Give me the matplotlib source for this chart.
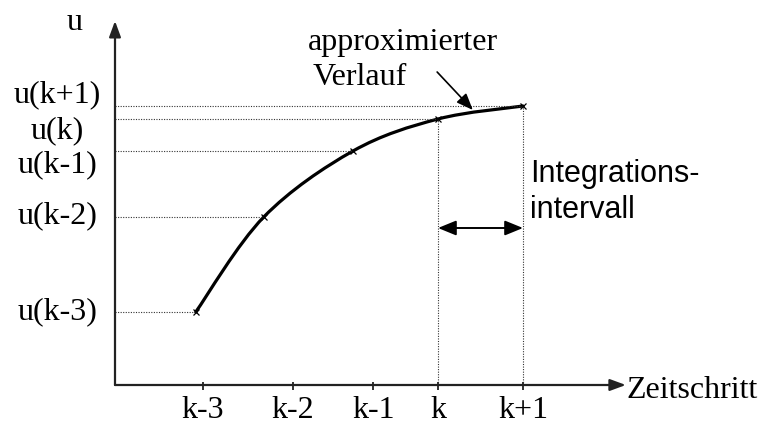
import numpy as np
import matplotlib.pyplot as plt
from matplotlib.path import Path
from matplotlib.patches import PathPatch

# time axis in steps, k = 0
t_points = np.array([-2.85, -2.05, -1.0, 0.0, 1.0])
u_points = np.array([0.73, 1.68, 2.34, 2.66, 2.79])
u_labels = ['u(k-3)', 'u(k-2)', 'u(k-1)', 'u(k)', 'u(k+1)']
t_ticks = [-2.77, -1.71, -0.76, 0.0, 1.0]
t_labels = ['k-3', 'k-2', 'k-1', 'k', 'k+1']

serif = 'Liberation Serif'
sans = 'Liberation Sans'
axcol = '#222222'


def smooth_path(x, y):
    # catmull-rom curve through the samples, drawn as bezier segments
    p = np.column_stack([x, y])
    p = np.vstack([p[0], p, p[-1]])
    verts = [p[1]]
    codes = [Path.MOVETO]
    for i in range(1, len(p) - 2):
        c1 = p[i] + (p[i + 1] - p[i - 1]) / 6.0
        c2 = p[i + 1] - (p[i + 2] - p[i]) / 6.0
        verts += [c1, c2, p[i + 1]]
        codes += [Path.CURVE4] * 3
    return Path(verts, codes)


fig = plt.figure(figsize=(7.61, 4.23), dpi=100)
ax = fig.add_axes([0, 0, 1, 1])
ax.set_xlim(-438 / 85, 323 / 85)
ax.set_ylim(-0.38, 3.85)
ax.axis('off')

x0 = -3.8
# axes with arrow heads
ax.annotate('', xy=(x0, 3.64), xytext=(x0, 0),
            arrowprops=dict(arrowstyle='-|>,head_length=0.95,head_width=0.35',
                            color=axcol, lw=1.6, shrinkA=0, shrinkB=0))
ax.annotate('', xy=(2.21, 0), xytext=(x0, 0),
            arrowprops=dict(arrowstyle='-|>,head_length=0.95,head_width=0.35',
                            color=axcol, lw=1.6, shrinkA=0, shrinkB=0))
ax.vlines(t_ticks, -0.05, 0.03, color=axcol, lw=1.3)
for t, lab in zip(t_ticks, t_labels):
    ax.text(t, -0.325, lab, ha='center', va='baseline', family=serif, fontsize=23)

ax.text(-4.27, 3.55, 'u', ha='center', va='baseline', family=serif, fontsize=23)
ax.text(2.22, -0.13, 'Zeitschritt', ha='left', va='baseline', family=serif, fontsize=23)

# dotted helper lines
dots = (0, (1, 1.3))
ax.hlines(u_points, x0, t_points, colors='#333333', lw=0.8, linestyles=dots)
ax.vlines(t_points[3:], 0, u_points[3:], colors='#333333', lw=0.8, linestyles=dots)

label_shift = [0.0, 0.01, -0.14, -0.12, 0.11]
for u, lab, s in zip(u_points, u_labels, label_shift):
    ax.text(-4.48, u + s, lab, ha='center', va='center', family=serif, fontsize=23)

# approximated course
ax.add_patch(PathPatch(smooth_path(t_points, u_points), fill=False,
                       lw=2.3, color='black', capstyle='round'))
ax.plot(t_points, u_points, 'x', ms=5, mew=0.9, color='black')

ax.annotate('', xy=(0.41, 2.75), xytext=(-0.01, 3.13),
            arrowprops=dict(arrowstyle='-|>,head_length=1.0,head_width=0.4',
                            color='black', lw=1.2, shrinkA=0, shrinkB=0))
ax.text(-1.53, 3.35, 'approximierter', ha='left', va='baseline', family=serif, fontsize=23)
ax.text(-1.48, 3.00, 'Verlauf', ha='left', va='baseline', family=serif, fontsize=23)

# integration interval
ax.annotate('', xy=(t_points[4], 1.57), xytext=(t_points[3], 1.57),
            arrowprops=dict(arrowstyle='<|-|>,head_length=1.1,head_width=0.45',
                            color='black', lw=1.4, shrinkA=0, shrinkB=0))
ax.text(1.08, 2.03, 'Integrations-', ha='left', va='baseline', family=sans, fontsize=22)
ax.text(1.08, 1.67, 'intervall', ha='left', va='baseline', family=sans, fontsize=22)

fig.savefig('out.png', dpi=100)
